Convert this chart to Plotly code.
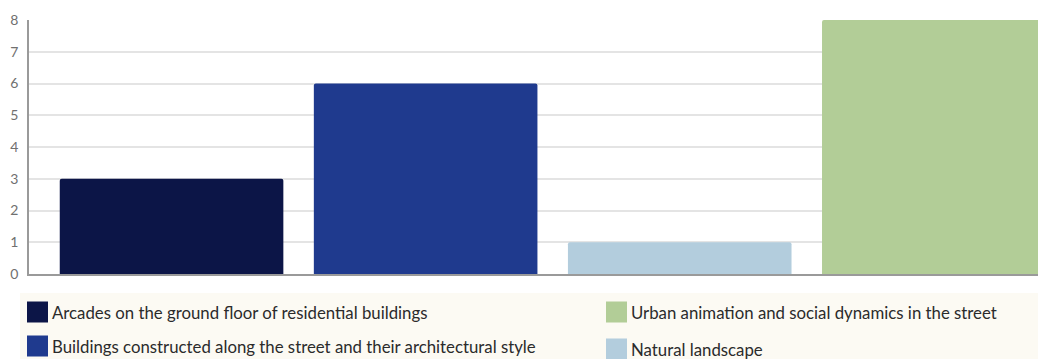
import plotly.graph_objects as go

# Survey results: number of mentions per street quality
categories = [
    "Arcades on the ground floor of residential buildings",
    "Buildings constructed along the street and their architectural style",
    "Natural landscape",
    "Urban animation and social dynamics in the street",
]
values = [3, 6, 1, 8]
colors = ["#0c1547", "#1f3a8e", "#b3cddd", "#b2cd97"]
y_ticks = [0, 1, 2, 3, 4, 5, 6, 7, 8]

W, H = 1038, 359
fig = go.Figure()

for i, (name, v, c) in enumerate(zip(categories, values, colors)):
    fig.add_trace(go.Bar(
        x=[i], y=[v], name=name, width=0.88,
        marker=dict(color=c, cornerradius=2, line=dict(width=0)),
        showlegend=False, hoverinfo="y+name",
    ))

fig.update_layout(
    width=W, height=H,
    margin=dict(l=29, r=0, t=20, b=85),
    plot_bgcolor="white", paper_bgcolor="white",
    barmode="overlay",
    font=dict(family="Lato, 'Open Sans', sans-serif", color="#333333"),
    xaxis=dict(
        range=[-0.561, 3.41], showticklabels=False, showgrid=False,
        zeroline=False, showline=True, linecolor="#9a9a9a", linewidth=1.5,
        ticks="",
    ),
    yaxis=dict(
        range=[0, 8], tickvals=y_ticks, showgrid=True, gridcolor="#e4e4e4",
        gridwidth=1.5, zeroline=False, showline=True, linecolor="#9a9a9a",
        linewidth=1.5, ticks="", ticklabelstandoff=6,
        tickfont=dict(size=14, color="#707070", family="Lato, sans-serif"),
    ),
)

# Legend panel drawn in pixel terms converted to paper coordinates
def px_x(x):
    return (x - 29) / (W - 29)

def px_y(y):
    return (H - 85 - y) / (H - 20 - 85)

fig.add_shape(type="rect", xref="paper", yref="paper",
              x0=px_x(20), x1=px_x(W), y0=px_y(293), y1=px_y(H + 5),
              fillcolor="#fcfaf3", line=dict(width=0), layer="below")

legend_items = [
    (0, 27, 312),
    (1, 27, 346),
    (3, 606, 312),
    (2, 606, 349),
]
for idx, lx, ly in legend_items:
    s = 21
    x0, x1 = px_x(lx), px_x(lx + s)
    y0, y1 = px_y(ly + s / 2), px_y(ly - s / 2)
    fig.add_shape(type="rect", xref="paper", yref="paper",
                  x0=x0, x1=x1, y0=y0, y1=y1,
                  fillcolor=colors[idx], line=dict(width=0))
    fig.add_annotation(xref="paper", yref="paper",
                       x=px_x(lx + s + 2), y=px_y(ly),
                       text=categories[idx], showarrow=False,
                       xanchor="left", yanchor="middle",
                       font=dict(size=16.8, color="#2b2b2b",
                                 family="Lato, sans-serif"))

fig.write_html("out.html")
